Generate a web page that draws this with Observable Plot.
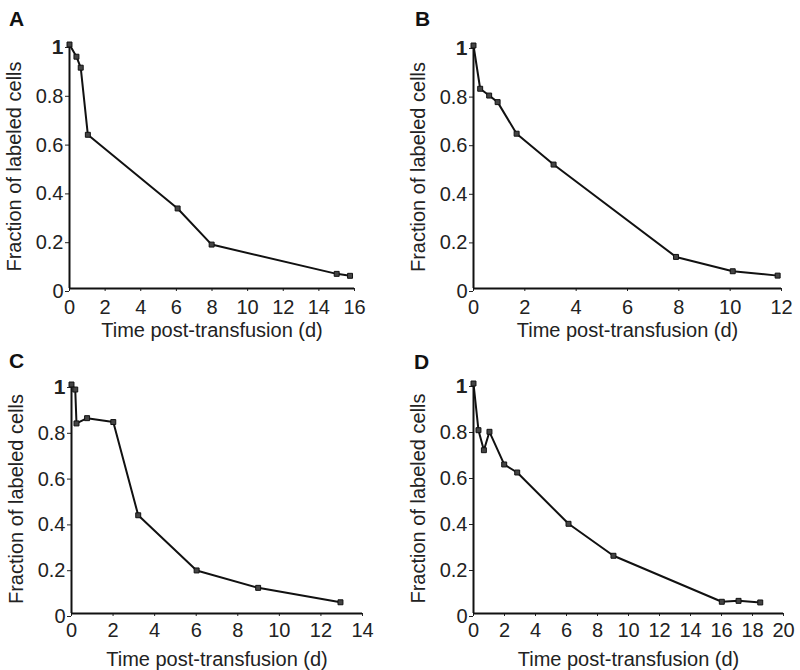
<!DOCTYPE html>
<html>
<head>
<meta charset="utf-8">
<script src="https://cdn.jsdelivr.net/npm/d3@7"></script>
<script src="https://cdn.jsdelivr.net/npm/@observablehq/plot@0.6"></script>
<style>
  html, body { margin: 0; padding: 0; background: #fff; }
  #root { position: relative; width: 800px; height: 670px; overflow: hidden; font-family: "Liberation Sans", Arial, sans-serif; }
  .panel { position: absolute; overflow: visible; }
  .letter { position: absolute; font-weight: bold; font-size: 21px; line-height: 21px; color: #111; font-family: "Liberation Sans", Arial, sans-serif; }
</style>
</head>
<body>
<div id="root"></div>
<script>
// ---- data ----
const timeA = [0, 0.39, 0.63, 1.03, 6.07, 7.98, 15.0, 15.75];
const fracA = [1.0, 0.95, 0.905, 0.63, 0.328, 0.18, 0.06, 0.052];

const timeB = [0, 0.26, 0.61, 0.94, 1.68, 3.12, 7.89, 10.1, 11.85];
const fracB = [1.0, 0.822, 0.794, 0.767, 0.637, 0.51, 0.13, 0.071, 0.053];

const timeC = [0, 0.18, 0.24, 0.75, 2.01, 3.21, 6.02, 8.98, 12.94];
const fracC = [1.0, 0.978, 0.83, 0.853, 0.836, 0.429, 0.188, 0.112, 0.049];

const timeD = [0, 0.32, 0.67, 1.03, 1.98, 2.82, 6.13, 9.03, 16.02, 17.1, 18.5];
const fracD = [1.0, 0.797, 0.71, 0.79, 0.648, 0.613, 0.39, 0.251, 0.051, 0.055, 0.048];

const yTicks = [0, 0.2, 0.4, 0.6, 0.8, 1];
const xTicksA = [0, 2, 4, 6, 8, 10, 12, 14, 16];
const xTicksB = [0, 2, 4, 6, 8, 10, 12];
const xTicksC = [0, 2, 4, 6, 8, 10, 12, 14];
const xTicksD = [0, 2, 4, 6, 8, 10, 12, 14, 16, 18, 20];

const panelLetters = ["A", "B", "C", "D"];
const xLabel = "Time post-transfusion (d)";
const yLabel = "Fraction of labeled cells";

// ---- layout ----
const panels = [
  {letter: panelLetters[0], t: timeA, f: fracA, xt: xTicksA, left: 0, top: 0, ml: 69, mr: 46, mt: 44, mb: 47, pad: 8, lo: 48, lx: 9, ly: 8},
  {letter: panelLetters[1], t: timeB, f: fracB, xt: xTicksB, left: 400, top: 0, ml: 73, mr: 19, mt: 45, mb: 47, pad: 8, lo: 48, lx: 415, ly: 8},
  {letter: panelLetters[2], t: timeC, f: fracC, xt: xTicksC, left: 0, top: 335, ml: 71, mr: 38, mt: 49, mb: 57, pad: 6, lo: 52, lx: 9, ly: 350},
  {letter: panelLetters[3], t: timeD, f: fracD, xt: xTicksD, left: 400, top: 335, ml: 73, mr: 17, mt: 48, mb: 57, pad: 6, lo: 52, lx: 414, ly: 351}
];

const root = document.getElementById("root");

for (const p of panels) {
  const data = p.t.map((t, i) => ({t, f: p.f[i]}));
  const xMax = p.xt[p.xt.length - 1];
  const chart = Plot.plot({
    width: 400,
    height: 335,
    marginLeft: p.ml,
    marginRight: p.mr,
    marginTop: p.mt,
    marginBottom: p.mb,
    style: {fontFamily: "'Liberation Sans', Arial, sans-serif", fontSize: "20px", color: "#222", background: "transparent", overflow: "visible"},
    x: {domain: [0, xMax]},
    y: {domain: [0, 1]},
    marks: [
      Plot.axisY({ticks: yTicks, tickSize: 4, tickPadding: 2, dy: 3, tickFormat: d => String(d),
        label: null}),
      Plot.axisY({ticks: [], label: yLabel, labelAnchor: "center", labelOffset: 63, labelArrow: "none"}),
      Plot.axisX({ticks: p.xt, tickSize: 3, tickPadding: p.pad, tickFormat: d => String(d),
        label: xLabel, labelAnchor: "center", labelOffset: p.lo, labelArrow: "none"}),
      Plot.ruleX([0], {stroke: "#111", strokeWidth: 2}),
      Plot.ruleY([0], {stroke: "#111", strokeWidth: 2}),
      Plot.line(data, {x: "t", y: "f", stroke: "#111", strokeWidth: 2}),
      Plot.dot(data, {x: "t", y: "f", symbol: "square", r: 2.8, fill: "#444", stroke: "#111", strokeWidth: 1})
    ]
  });
  chart.classList.add("panel");
  chart.style.left = p.left + "px";
  chart.style.top = p.top + "px";
  root.appendChild(chart);
  d3.select(chart).selectAll("text")
    .filter(function() { return this.textContent === "1"; })
    .attr("font-weight", "bold").attr("font-size", 21);

  const L = document.createElement("div");
  L.className = "letter";
  L.textContent = p.letter;
  L.style.left = p.lx + "px";
  L.style.top = p.ly + "px";
  root.appendChild(L);
}
</script>
</body>
</html>
